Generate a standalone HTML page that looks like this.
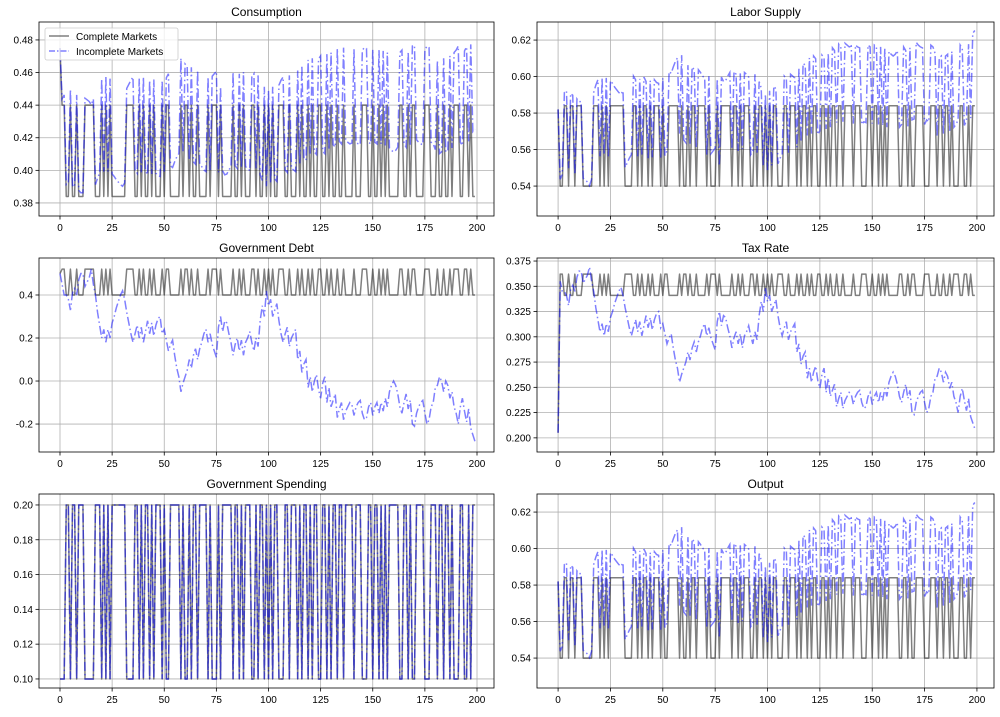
<!DOCTYPE html>
<html><head><meta charset="utf-8"><style>
body{margin:0;background:#fff;font-family:"Liberation Sans",sans-serif;}
svg text{font-family:"Liberation Sans",sans-serif;}
</style></head><body>
<svg id="fig" width="1000" height="712" xmlns="http://www.w3.org/2000/svg"></svg>
<script>
// Government spending state (1 = high g = 0.2)
const gState = ("0001101101"+"1100000111"+"0101011111"+"1100001101"+"0110101110"+"1001111101"+"0010110111"+"1010001011"+"1110110101"+"1100101101"+
"0101100011"+"0111010110"+"1011001101"+"0110110111"+"1011100011"+"0110101011"+"1110011010"+"0111100011"+"1011011010"+"0011001011").split('').map(Number);
const gLevels = [0.1, 0.2];
const consCompleteLevels = [0.44, 0.384];
const laborCompleteLevels = [0.54, 0.584];
const debtCompleteLevels = [0.52, 0.40];
const taxCompleteLevels = [0.362, 0.341];
const initial = {cons:0.475, labor:0.582, tax:0.205, debt:0.5};
const debtIncomplete = [
0.50,0.45,0.40,0.40,0.38,0.33,0.41,0.43,0.40,0.47,
0.50,0.50,0.44,0.46,0.48,0.52,0.45,0.40,0.32,0.26,
0.20,0.24,0.18,0.24,0.20,0.27,0.30,0.34,0.37,0.40,
0.42,0.38,0.32,0.27,0.22,0.18,0.22,0.26,0.20,0.25,
0.18,0.23,0.28,0.22,0.27,0.21,0.26,0.29,0.30,0.22,
0.24,0.19,0.14,0.17,0.19,0.12,0.06,0.02,-0.05,-0.01,
0.02,0.05,0.10,0.06,0.12,0.15,0.10,0.15,0.18,0.22,
0.24,0.18,0.22,0.17,0.14,0.11,0.25,0.30,0.23,0.28,
0.27,0.22,0.18,0.12,0.17,0.20,0.14,0.19,0.12,0.18,
0.20,0.23,0.18,0.14,0.20,0.16,0.28,0.35,0.30,0.42,
0.35,0.38,0.30,0.33,0.36,0.28,0.22,0.18,0.22,0.25,
0.16,0.20,0.22,0.24,0.10,0.14,0.04,0.08,0.10,-0.03,
0.02,-0.05,0.00,0.03,-0.04,-0.08,-0.01,0.02,-0.10,-0.03,
-0.12,-0.09,-0.06,-0.17,-0.13,-0.10,-0.18,-0.14,-0.12,-0.10,
-0.11,-0.16,-0.12,-0.10,-0.09,-0.15,-0.18,-0.17,-0.12,-0.10,
-0.16,-0.12,-0.10,-0.15,-0.10,-0.14,-0.08,-0.12,-0.05,-0.02,
0.00,-0.02,-0.06,-0.12,-0.15,-0.10,-0.06,-0.13,-0.09,-0.20,
-0.21,-0.15,-0.12,-0.10,-0.09,-0.15,-0.20,-0.18,-0.12,-0.10,
-0.03,-0.02,0.02,0.00,-0.05,0.00,-0.02,-0.08,-0.05,-0.12,
-0.15,-0.20,-0.12,-0.08,-0.14,-0.19,-0.13,-0.22,-0.25,-0.28];
const xTicks = [0,25,50,75,100,125,150,175,200];

const N = gState.length;
const g = gState.map(s=>gLevels[s]);
const consC = gState.map((s,i)=> i===0?initial.cons:consCompleteLevels[s]);
const laborC = gState.map((s,i)=> i===0?initial.labor:laborCompleteLevels[s]);
const debtC = gState.map((s,i)=> i===0?initial.debt:debtCompleteLevels[s]);
const taxC = gState.map((s,i)=> i===0?initial.tax:taxCompleteLevels[s]);
const taxI = debtIncomplete.map((d,i)=> i===0?initial.tax:0.265+0.2*d);
const laborI = taxI.map((t,i)=> i===0?initial.labor:0.5425+(0.36-t)*0.25+0.045*gState[i]);
const consI = laborI.map((l,i)=> i===0?initial.cons:l-g[i]);

const XMIN=-10.07, XMAX=208.15;
const panels = [
 {name:'consumption',title:'Consumption',x0:39,x1:494,y0:22,y1:216,ymin:0.372,ymax:0.491,ticks:[0.38,0.40,0.42,0.44,0.46,0.48],fmt:2,c:consC,i:consI,legend:true},
 {name:'labor-supply',title:'Labor Supply',x0:537,x1:994,y0:22,y1:216,ymin:0.5236,ymax:0.6299,ticks:[0.54,0.56,0.58,0.60,0.62],fmt:2,c:laborC,i:laborI},
 {name:'government-debt',title:'Government Debt',x0:39,x1:494,y0:258,y1:452,ymin:-0.330,ymax:0.572,ticks:[-0.2,0.0,0.2,0.4],fmt:1,c:debtC,i:debtIncomplete},
 {name:'tax-rate',title:'Tax Rate',x0:537,x1:994,y0:258,y1:452,ymin:0.186,ymax:0.378,ticks:[0.2,0.225,0.25,0.275,0.3,0.325,0.35,0.375],fmt:3,c:taxC,i:taxI},
 {name:'government-spending',title:'Government Spending',x0:39,x1:494,y0:494,y1:688,ymin:0.0948,ymax:0.2063,ticks:[0.10,0.12,0.14,0.16,0.18,0.20],fmt:2,c:g,i:g},
 {name:'output',title:'Output',x0:537,x1:994,y0:494,y1:688,ymin:0.5236,ymax:0.6299,ticks:[0.54,0.56,0.58,0.60,0.62],fmt:2,c:laborC,i:laborI},
];
const NS='http://www.w3.org/2000/svg';
const svg=document.getElementById('fig');
function mk(tag,attrs,parent){const e=document.createElementNS(NS,tag);for(const k in attrs)e.setAttribute(k,attrs[k]);(parent||svg).appendChild(e);return e;}
panels.forEach(p=>{
 const grp=mk('g',{});
 
 
 const xs=v=>p.x0+(v-XMIN)/(XMAX-XMIN)*(p.x1-p.x0);
 const ys=v=>p.y1-(v-p.ymin)/(p.ymax-p.ymin)*(p.y1-p.y0);
 xTicks.forEach(t=>{
  const x=xs(t);
  const gl=mk('line',{x1:x,x2:x,y1:p.y0,y2:p.y1,stroke:'#b0b0b0','stroke-width':0.8},grp);
  
  
  mk('line',{x1:x,x2:x,y1:p.y1,y2:p.y1+3.5,stroke:'#000','stroke-width':0.8},grp);
  const tx=mk('text',{x:x,y:p.y1+15,'font-size':10,'text-anchor':'middle',fill:'#000'},grp);
  tx.textContent=t;
  
  
 });
 p.ticks.forEach(t=>{
  const y=ys(t);
  const gl=mk('line',{x1:p.x0,x2:p.x1,y1:y,y2:y,stroke:'#b0b0b0','stroke-width':0.8},grp);
  
  
  mk('line',{x1:p.x0-3.5,x2:p.x0,y1:y,y2:y,stroke:'#000','stroke-width':0.8},grp);
  const tx=mk('text',{x:p.x0-6,y:y+3.5,'font-size':10,'text-anchor':'end',fill:'#000'},grp);
  tx.textContent=t.toFixed(p.fmt);
  
  
 });
 const ptsC=p.c.map((v,i)=>xs(i).toFixed(2)+','+ys(v).toFixed(2)).join(' ');
 const ptsI=p.i.map((v,i)=>xs(i).toFixed(2)+','+ys(v).toFixed(2)).join(' ');
 const lc=mk('polyline',{points:ptsC,fill:'none',stroke:'rgba(0,0,0,0.5)','stroke-width':1.5,'stroke-linejoin':'round'},grp);
 
 
 const li=mk('polyline',{points:ptsI,fill:'none',stroke:'rgba(0,0,255,0.5)','stroke-width':1.5,'stroke-dasharray':'9,3,1.5,3'},grp);
 
 
 const fr=mk('rect',{x:p.x0,y:p.y0,width:p.x1-p.x0,height:p.y1-p.y0,fill:'none',stroke:'#000','stroke-width':0.8},grp);
 
 
 const ti=mk('text',{x:(p.x0+p.x1)/2,y:p.y0-6,'font-size':12,'text-anchor':'middle',fill:'#000'},grp);
 ti.textContent=p.title;
 
 
 if(p.legend){
  const lg=mk('g',{},grp);
  
  
  mk('rect',{x:45,y:28,width:133,height:32,rx:2,fill:'rgba(255,255,255,0.8)',stroke:'#ccc','stroke-width':0.8},lg);
  mk('line',{x1:49,x2:69,y1:36,y2:36,stroke:'rgba(0,0,0,0.5)','stroke-width':1.5},lg);
  mk('line',{x1:49,x2:69,y1:51,y2:51,stroke:'rgba(0,0,255,0.5)','stroke-width':1.5,'stroke-dasharray':'6,2,1.5,2'},lg);
  const t1=mk('text',{x:76,y:40,'font-size':10,fill:'#000'},lg);t1.textContent='Complete Markets';
  
  
  const t2=mk('text',{x:76,y:55,'font-size':10,fill:'#000'},lg);t2.textContent='Incomplete Markets';
  
  
 }
});
</script>
</body></html>
